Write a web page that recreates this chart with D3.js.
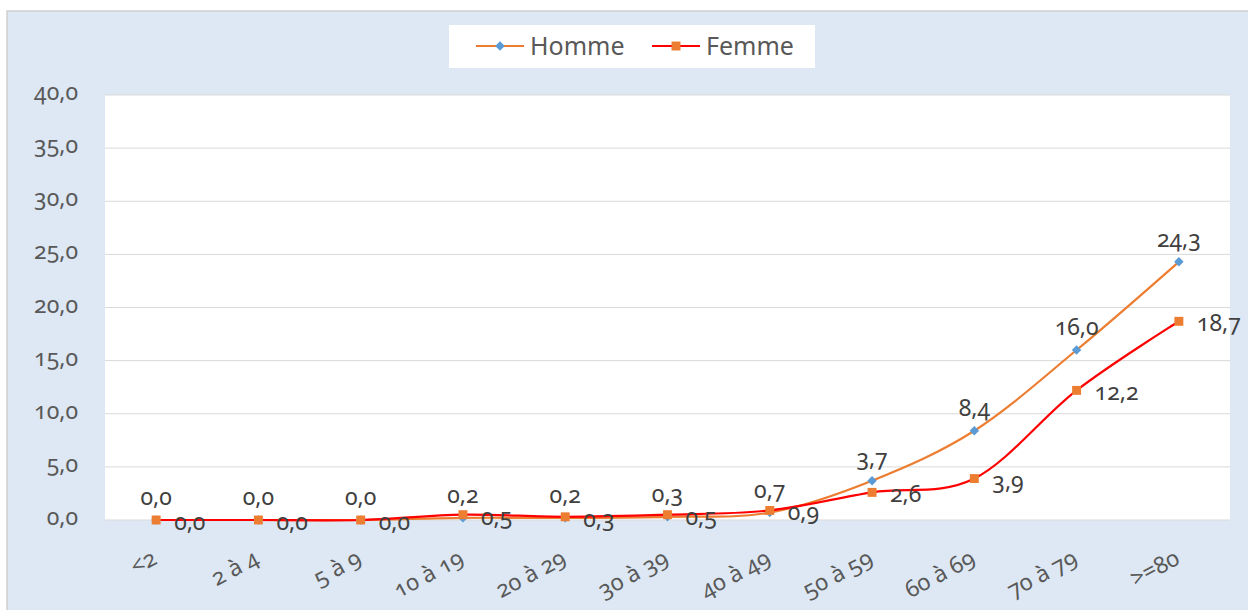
<!DOCTYPE html>
<html lang="fr">
<head>
<meta charset="utf-8"/>
<title>Homme / Femme</title>
<script src="https://d3js.org/d3.v7.min.js"></script>
<style>
    body { margin: 0; background: #fff; }
    svg { display: block; }
    svg text { font-family: "Noto Sans", "Open Sans", sans-serif; font-variant-numeric: oldstyle-nums; }
    .tick text { fill: #595959; }
</style>
</head>
<body>
<svg id="chart" width="1248" height="610"></svg>
<script>
    const categories = ["<2", "2 à 4", "5 à 9", "10 à 19", "20 à 29", "30 à 39", "40 à 49", "50 à 59", "60 à 69", "70 à 79", ">=80"];
    const homme = [0.0, 0.0, 0.0, 0.2, 0.2, 0.3, 0.7, 3.7, 8.4, 16.0, 24.3];
    const femme = [0.0, 0.0, 0.0, 0.5, 0.3, 0.5, 0.9, 2.6, 3.9, 12.2, 18.7];
    const yTicks = [0, 5, 10, 15, 20, 25, 30, 35, 40];

    const svg = d3.select("#chart");
    const W = 1248, H = 610;
    const plot = {left: 105, right: 1230, top: 95, bottom: 520};
    const fmt = v => d3.format(".1f")(v).replace(".", ",");

    // frame
    svg.append("rect").attr("x", 7).attr("y", 11).attr("width", W).attr("height", H)
        .attr("fill", "#dde8f4").attr("stroke", "#d0d0d0").attr("stroke-width", 1.5);
    svg.append("rect").attr("x", plot.left).attr("y", plot.top)
        .attr("width", plot.right - plot.left).attr("height", plot.bottom - plot.top).attr("fill", "#fff");

    const x = d3.scaleBand().domain(categories).range([plot.left, plot.right]);
    const cx = c => x(c) + x.bandwidth() / 2;
    const y = d3.scaleLinear().domain([0, 40]).range([plot.bottom, plot.top]);

    // grid
    svg.append("g").selectAll("line").data(yTicks).join("line")
        .attr("x1", plot.left).attr("x2", plot.right)
        .attr("y1", d => y(d)).attr("y2", d => y(d))
        .attr("stroke", "#d9d9d9").attr("stroke-width", 1);

    // y axis
    const yAxis = svg.append("g").attr("transform", `translate(${plot.left - 27},0)`)
        .call(d3.axisLeft(y).tickValues(yTicks).tickFormat(fmt).tickSize(0));
    yAxis.attr("font-family", null);
    yAxis.select(".domain").remove();
    yAxis.selectAll("text").attr("font-size", 23).attr("dy", "0.2em").attr("x", 0);

    // x axis
    const xAxis = svg.append("g").attr("transform", `translate(0,${plot.bottom})`)
        .call(d3.axisBottom(x).tickSize(0));
    xAxis.attr("font-family", null);
    xAxis.select(".domain").remove();
    xAxis.selectAll("text")
        .attr("font-size", 23)
        .attr("text-anchor", "end")
        .attr("transform", "translate(-1,37) rotate(-28)")
        .attr("y", 0).attr("dy", "0.3em");

    const series = [
        {name: "Homme", values: homme, line: "#ED7D31", marker: "#5B9BD5", shape: d3.symbolSquare, size: 45, rot: 45},
        {name: "Femme", values: femme, line: "#FF0000", marker: "#ED7D31", shape: d3.symbolSquare, size: 80, rot: 0}
    ];

    const line = d3.line().curve(d3.curveCardinal.tension(0))
        .x(d => cx(d.c)).y(d => y(d.v));

    series.forEach(s => {
        const pts = categories.map((c, i) => ({c: c, v: s.values[i]}));
        svg.append("path").datum(pts).attr("d", line)
            .attr("fill", "none").attr("stroke", s.line).attr("stroke-width", 2.2);
        s.pts = pts;
    });

    series.forEach(s => {
        svg.append("g").selectAll("path").data(s.pts).join("path")
            .attr("d", d3.symbol().type(s.shape).size(s.size))
            .attr("transform", d => `translate(${cx(d.c)},${y(d.v)}) rotate(${s.rot})`)
            .attr("fill", s.marker);
    });

    // data labels
    svg.append("g").selectAll("text").data(series[0].pts).join("text")
        .attr("x", d => cx(d.c)).attr("y", d => y(d.v) - 15)
        .attr("text-anchor", "middle").attr("font-size", 23).attr("fill", "#404040")
        .text(d => fmt(d.v));
    svg.append("g").selectAll("text").data(series[1].pts).join("text")
        .attr("x", d => cx(d.c) + 18).attr("y", d => y(d.v) + 10)
        .attr("text-anchor", "start").attr("font-size", 23).attr("fill", "#404040")
        .text(d => fmt(d.v));

    // legend
    const lg = svg.append("g");
    lg.append("rect").attr("x", 449).attr("y", 25).attr("width", 366).attr("height", 43).attr("fill", "#fff");
    const legendX = [476, 652];
    series.forEach((s, i) => {
        const g = lg.append("g").attr("transform", `translate(${legendX[i]},46)`);
        g.append("line").attr("x1", 0).attr("x2", 48).attr("stroke", s.line).attr("stroke-width", 2.2);
        g.append("path").attr("d", d3.symbol().type(s.shape).size(s.size))
            .attr("transform", `translate(24,0) rotate(${s.rot})`).attr("fill", s.marker);
        g.append("text").attr("x", 54).attr("dy", "0.35em").attr("font-size", 25).attr("fill", "#595959").text(s.name);
    });
</script>
</body>
</html>
